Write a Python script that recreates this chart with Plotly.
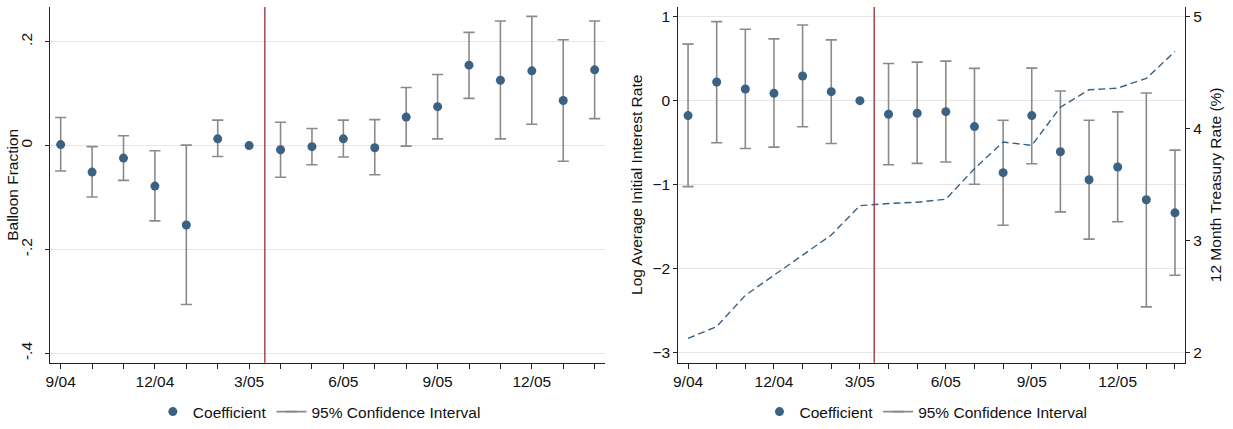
import plotly.graph_objects as go

# Event-study months (monthly, 9/04 through 2/06)
months = ["9/04", "10/04", "11/04", "12/04", "1/05", "2/05", "3/05", "4/05", "5/05",
          "6/05", "7/05", "8/05", "9/05", "10/05", "11/05", "12/05", "1/06", "2/06"]
labeled_months = ["9/04", "12/04", "3/05", "6/05", "9/05", "12/05"]
event_position = 6.5  # policy change falls between 3/05 and 4/05

# Panel A: balloon fraction coefficients and 95% CI bounds (3/05 is the omitted month)
balloon_coef = [0.002, -0.051, -0.024, -0.078, -0.153, 0.013, 0.0, -0.008, -0.002,
                0.013, -0.004, 0.055, 0.075, 0.155, 0.126, 0.144, 0.087, 0.146]
balloon_hi = [0.054, -0.002, 0.019, -0.010, 0.001, 0.049, None, 0.045, 0.033,
              0.049, 0.050, 0.112, 0.137, 0.218, 0.240, 0.249, 0.204, 0.240]
balloon_lo = [-0.049, -0.099, -0.067, -0.145, -0.306, -0.021, None, -0.061, -0.037,
              -0.022, -0.056, -0.001, 0.013, 0.091, 0.013, 0.041, -0.030, 0.052]

# Panel B: log average initial interest rate coefficients and 95% CI bounds
rate_coef = [-0.178, 0.222, 0.139, 0.087, 0.293, 0.107, 0.0, -0.162, -0.150,
             -0.131, -0.309, -0.858, -0.178, -0.609, -0.942, -0.791, -1.181, -1.337]
rate_hi = [0.673, 0.942, 0.851, 0.736, 0.902, 0.724, None, 0.443, 0.459,
           0.471, 0.384, -0.234, 0.388, 0.115, -0.234, -0.134, 0.091, -0.590]
rate_lo = [-1.024, -0.502, -0.570, -0.554, -0.312, -0.510, None, -0.764, -0.748,
           -0.732, -0.997, -1.484, -0.752, -1.326, -1.650, -1.444, -2.457, -2.081]

# 12-month Treasury rate (%), right axis of panel B
treasury = [2.125, 2.231, 2.510, 2.688, 2.872, 3.049, 3.311, 3.331, 3.342,
            3.369, 3.642, 3.880, 3.850, 4.191, 4.347, 4.362, 4.449, 4.689]

balloon_ticks = [-0.4, -0.2, 0, 0.2]
balloon_ticktext = ["-.4", "-.2", "0", ".2"]
rate_ticks = [-3, -2, -1, 0, 1]
treasury_ticks = [2, 3, 4, 5]

NAVY = "#3b6283"
CI_GRAY = "#8a8a8a"
RED = "#a03a40"
GRID = "#e6e6e6"
FONT = "Liberation Sans, Arial, sans-serif"
FS = 15.5


def ci_segments(lo, hi):
    xs, ys = [], []
    for m, a, b in zip(months, lo, hi):
        if a is None or b is None:
            continue
        xs += [m, m, None]
        ys += [a, b, None]
    return xs, ys


fig = go.Figure()

for xa, ya, coef, lo, hi, leg in [("x", "y", balloon_coef, balloon_lo, balloon_hi, "legend"),
                                  ("x2", "y2", rate_coef, rate_lo, rate_hi, "legend2")]:
    cx, cy = ci_segments(lo, hi)
    # interval whiskers with end caps
    fig.add_trace(go.Scatter(
        x=cx, y=cy, xaxis=xa, yaxis=ya, mode="lines+markers",
        line=dict(color=CI_GRAY, width=1.6),
        marker=dict(symbol="line-ew", size=8, line=dict(color=CI_GRAY, width=1.6)),
        name="95% Confidence Interval", legend=leg, legendrank=2,
    ))
    # point estimates on top
    fig.add_trace(go.Scatter(
        x=months, y=coef, xaxis=xa, yaxis=ya, mode="markers",
        marker=dict(color=NAVY, size=9), name="Coefficient", legend=leg, legendrank=1,
    ))

fig.add_trace(go.Scatter(
    x=months, y=treasury, xaxis="x2", yaxis="y3", mode="lines",
    line=dict(color=NAVY, width=1.4, dash="7px,4px"), showlegend=False,
))

for xref, yref in [("x", "y domain"), ("x2", "y2 domain")]:
    fig.add_shape(type="line", xref=xref, yref=yref, x0=event_position, x1=event_position,
                  y0=0, y1=1, line=dict(color=RED, width=1.4), layer="above")

ydom = [1 - 363.5 / 429, 1 - 7 / 429]
tickfont = dict(size=FS, color="#111", family=FONT)
common_x = dict(
    type="category", categoryorder="array", categoryarray=months,
    tickmode="array", tickvals=months,
    ticktext=[m if m in labeled_months else "" for m in months],
    ticks="outside", ticklen=5, tickwidth=1.2, tickcolor="#222",
    showline=True, linecolor="#222", linewidth=1.2, showgrid=False, zeroline=False,
    tickfont=tickfont, automargin=False,
)
common_y = dict(
    ticks="outside", ticklen=4, tickwidth=1.2, tickcolor="#222",
    showline=True, linecolor="#222", linewidth=1.2,
    showgrid=True, gridcolor=GRID, gridwidth=1.4, zeroline=False,
    tickfont=tickfont, automargin=False,
)

fig.update_layout(
    width=1233, height=429,
    margin=dict(l=0, r=0, t=0, b=0),
    paper_bgcolor="white", plot_bgcolor="white",
    font=dict(family=FONT, size=FS, color="#111"),
    xaxis=dict(domain=[50 / 1233, 605 / 1233], anchor="y", range=[-0.34, 17.33], **common_x),
    yaxis=dict(domain=ydom, anchor="x", range=[-0.418, 0.267],
               tickvals=balloon_ticks, ticktext=balloon_ticktext, tickangle=-90,
               ticklabelstandoff=7, **common_y),
    xaxis2=dict(domain=[678.3 / 1233, 1185 / 1233], anchor="y2", range=[-0.34, 17.35], **common_x),
    yaxis2=dict(domain=ydom, anchor="x2", range=[-3.122, 1.116], tickvals=rate_ticks,
                title=dict(text="Log Average Initial Interest Rate", standoff=5, font=dict(size=FS)),
                **common_y),
    yaxis3=dict(overlaying="y2", anchor="x2", side="right", range=[1.9085, 5.087],
                tickvals=treasury_ticks, ticks="outside", ticklen=4, tickwidth=1.2, tickcolor="#222",
                showline=True, linecolor="#222", linewidth=1.2, showgrid=False, zeroline=False,
                tickfont=tickfont, automargin=False,
                title=dict(text="12 Month Treasury Rate (%)", standoff=8, font=dict(size=FS))),
    legend=dict(orientation="h", x=0.259, xanchor="center", y=1 - 413 / 429,
                yanchor="middle", font=dict(size=FS, family=FONT), bgcolor="rgba(0,0,0,0)",
                traceorder="normal"),
    legend2=dict(orientation="h", x=0.751, xanchor="center", y=1 - 413 / 429,
                 yanchor="middle", font=dict(size=FS, family=FONT), bgcolor="rgba(0,0,0,0)",
                 traceorder="normal"),
)

# left-panel axis title placed as rotated text beside the tick labels
fig.add_annotation(text="Balloon Fraction", xref="paper", yref="paper",
                   x=13 / 1233, y=(ydom[0] + ydom[1]) / 2, textangle=-90,
                   xanchor="center", yanchor="middle", showarrow=False,
                   font=dict(size=FS, family=FONT, color="#111"))

fig.write_html("out.html")
